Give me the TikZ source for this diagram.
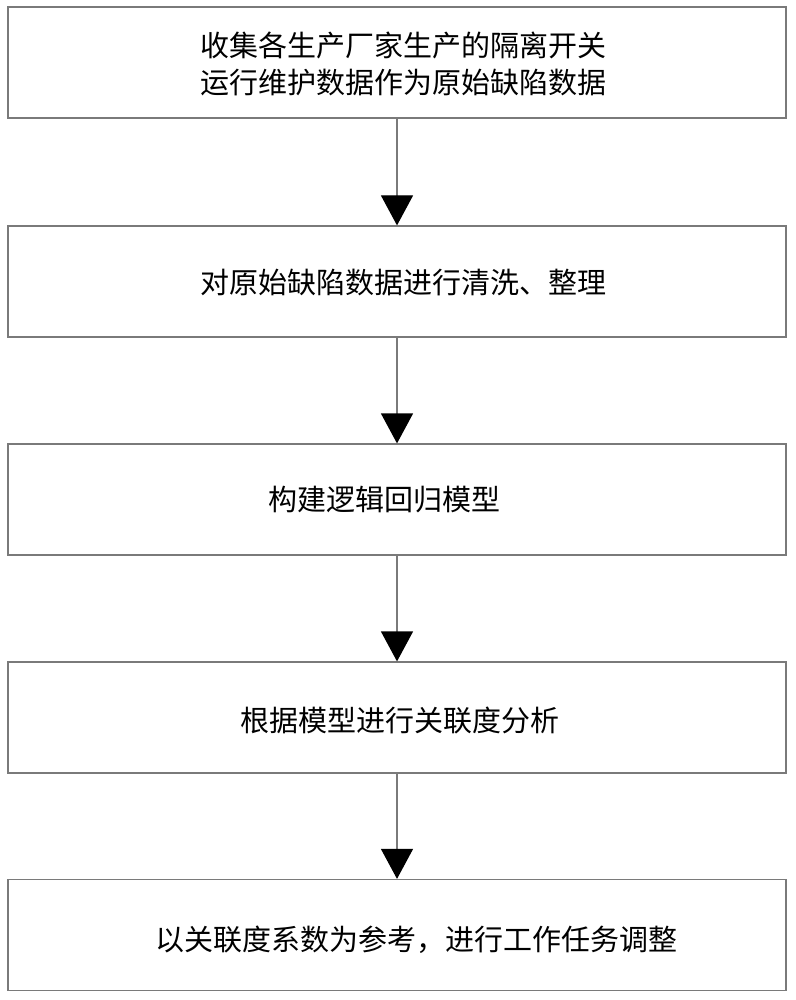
\documentclass[tikz,border=0pt]{standalone}
\usepackage{fontspec}
\usetikzlibrary{arrows.meta}
\newfontfamily\cjk{Noto Sans CJK SC}
\definecolor{frame}{HTML}{7A7A7A}

\begin{document}
\begin{tikzpicture}[x=1pt,y=-1pt,>=Stealth,
  stepbox/.style={draw=frame,line width=1.2pt,minimum width=778pt,minimum height=111pt,inner sep=0pt},
  steptext/.style={font=\cjk\fontsize{29}{37}\selectfont,anchor=west,inner sep=0pt,align=left},
  flow/.style={draw=frame,line width=1.2pt,-{Triangle[width=32pt,length=30pt,black]}}]
\useasboundingbox (0,0) rectangle (795,1000);
% boxes
\node[stepbox] (collect) at (397,62.5) {};
\node[stepbox] (clean) at (397,281.5) {};
\node[stepbox] (model) at (397,499.5) {};
\node[stepbox] (relate) at (397,717.5) {};
\node[stepbox] (adjust) at (397,935) {};
% texts
\node[steptext] (collecttxt) at (200,63.5) {收集各生产厂家生产的隔离开关\\运行维护数据作为原始缺陷数据};
\node[steptext] (cleantxt) at (200,282) {对原始缺陷数据进行清洗、整理};
\node[steptext] (modeltxt) at (268,500) {构建逻辑回归模型};
\node[steptext] (relatetxt) at (240,721) {根据模型进行关联度分析};
\node[steptext] (adjusttxt) at (155,940) {以关联度系数为参考，进行工作任务调整};
% arrows
\draw[flow] (collect) -- (clean);
\draw[flow] (clean) -- (model);
\draw[flow] (model) -- (relate);
\draw[flow] (relate) -- (adjust);
\end{tikzpicture}
\end{document}
